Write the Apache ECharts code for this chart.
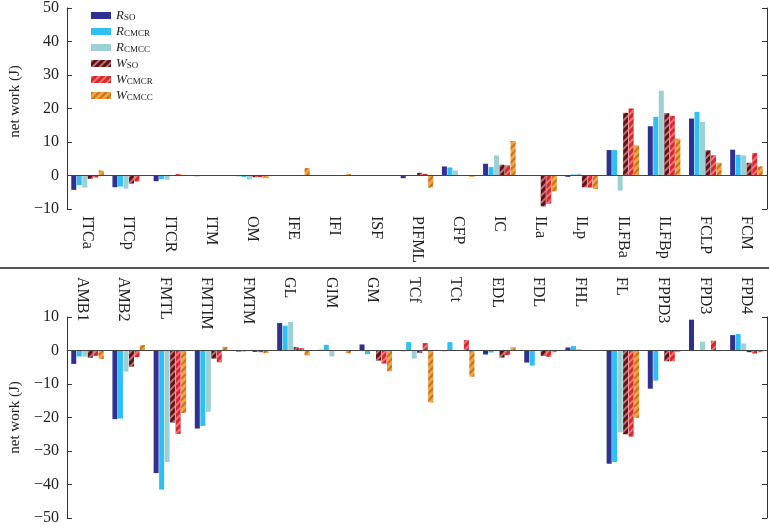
<!DOCTYPE html>
<html>
<head>
<meta charset="utf-8">
<script src="https://cdn.jsdelivr.net/npm/echarts@6/dist/echarts.min.js"></script>
<style>html,body{margin:0;padding:0;background:#fff}#c{width:769px;height:527px}</style>
</head>
<body>
<div id="c"></div>
<script>
var topCats = ['ITCa','ITCp','ITCR','ITM','OM','IFE','IFI','ISF','PIFML','CFP','IC','ILa','ILp','ILFBa','ILFBp','FCLP','FCM'];
var botCats = ['AMB1','AMB2','FMTL','FMTIM','FMTM','GL','GIM','GM','TCf','TCt','EDL','FDL','FHL','FL','FPPD3','FPD3','FPD4'];
var seriesNames = ['R_SO','R_CMCR','R_CMCC','W_SO','W_CMCR','W_CMCC'];

var top_R_SO   = [-4.3,-3.5,-1.7,-0.2,-0.2,0,0,0,-0.8,2.7,3.5,0,-0.4,7.6,14.7,17.0,7.7];
var top_R_CMCR = [-2.9,-3.3,-1.1,-0.1,-0.5,0,0,0,0,2.4,2.5,0,0.3,7.6,17.5,19.0,6.2];
var top_R_CMCC = [-3.6,-3.9,-1.3,-0.1,-1.2,0,0,0,0,1.5,6.0,0,0.5,-4.5,25.3,16.0,6.0];
var top_W_SO   = [-1.0,-2.4,0.1,-0.1,-0.5,0,0,0,0.8,0,3.2,-9.2,-3.5,18.7,18.6,7.5,3.8];
var top_W_CMCR = [-0.6,-1.8,0.4,-0.1,-0.5,0,0,0,0.5,0,3.0,-8.4,-3.6,20.0,17.8,6.0,6.7];
var top_W_CMCC = [1.5,0,0.2,-0.1,-0.8,2.2,0.4,0,-3.6,-0.4,10.3,-4.7,-4.0,9.0,11.0,3.8,2.7];

var bot_R_SO   = [-4.0,-20.5,-36.6,-23.3,-0.3,8.2,0.2,1.8,-0.2,-0.2,-1.2,-3.6,0.9,-33.8,-11.4,9.2,4.6];
var bot_R_CMCR = [-1.8,-20.3,-41.5,-22.5,-0.3,7.4,1.7,-1.1,2.5,2.5,-0.6,-4.5,1.3,-33.3,-9.0,0,4.9];
var bot_R_CMCC = [-1.8,-6.3,-33.3,-18.3,-0.2,8.5,-1.8,0,-2.4,0,-0.2,0,0.4,-24.4,0,2.6,2.1];
var bot_W_SO   = [-2.2,-4.8,-21.5,-2.4,-0.4,1.0,0,-3.0,-0.7,0,-2.1,-1.6,0,-25.0,-3.2,0,-0.5];
var bot_W_CMCR = [-1.6,-2.0,-24.9,-3.5,-0.5,0.7,0,-3.9,2.2,3.1,-1.4,-1.9,0,-25.7,-3.2,2.9,-0.9];
var bot_W_CMCC = [-2.5,1.6,-18.6,1.1,-0.8,-1.5,-0.8,-6.2,-15.5,-7.8,1.0,-0.5,0,-20.1,-0.5,-0.2,-0.5];

var topTicks = {min:-10, max:50, interval:10};
var botTicks = {min:-50, max:10, interval:10};

var topData = [top_R_SO, top_R_CMCR, top_R_CMCC, top_W_SO, top_W_CMCR, top_W_CMCC];
var botData = [bot_R_SO, bot_R_CMCR, bot_R_CMCC, bot_W_SO, bot_W_CMCR, bot_W_CMCC];

var colors = ['#2e3192','#2ec0f2','#9dd0d4','#5c1218','#d8262d','#f2a23f'];
var stripe = [null,null,null,'rgba(230,150,150,0.7)','rgba(255,150,150,0.7)','rgba(180,95,20,0.7)'];

var SERIF = 'Liberation Serif';
function fmtNum(v){ return v < 0 ? '\u2212' + (-v) : String(v); }

function yAxes(gi, t, namePad){
  return [{
    type:'value', gridIndex:gi, position:'left', min:t.min, max:t.max, interval:t.interval,
    name: 'net work (J)', nameLocation:'middle', nameGap:38,
    nameTextStyle:{fontFamily:SERIF, fontSize:15, color:'#222', padding:namePad},
    axisLine:{show:true, lineStyle:{color:'#333', width:1}},
    axisTick:{show:true, inside:true, length:5, lineStyle:{color:'#333'}},
    axisLabel:{fontFamily:SERIF, fontSize:16, color:'#222', formatter:fmtNum, margin:8},
    splitLine:{show:false}
  },{
    type:'value', gridIndex:gi, position:'right', min:t.min, max:t.max, interval:t.interval,
    axisLine:{show:true, lineStyle:{color:'#333', width:1}},
    axisTick:{show:true, inside:true, length:5, lineStyle:{color:'#333'}},
    axisLabel:{show:false}, splitLine:{show:false}
  }];
}

var series = [];
function addSeries(dataSets, xi, yi){
  for (var k=0;k<6;k++){
    var s = {
      name: seriesNames[k], type:'bar', xAxisIndex:xi, yAxisIndex:yi,
      data: dataSets[k], barWidth:5, barGap:'10%',
      itemStyle:{color:colors[k]}
    };
    if (stripe[k]) {
      s.itemStyle.decal = {symbol:'rect', symbolSize:1, dashArrayX:[1,0], dashArrayY:[1.2,2.6], rotation:-Math.PI/4, color:stripe[k]};
    }
    if (k===0){
      s.markLine = {silent:true, symbol:['none','none'], label:{show:false},
        lineStyle:{color:'#444', width:1, type:'solid'}, data:[{yAxis:0}], animation:false};
    }
    series.push(s);
  }
}
addSeries(topData, 0, 0);
addSeries(botData, 1, 2);

var subs = {R_SO:['R','SO'], R_CMCR:['R','CMCR'], R_CMCC:['R','CMCC'], W_SO:['W','SO'], W_CMCR:['W','CMCR'], W_CMCC:['W','CMCC']};

var catLabel = {rotate:-90, margin:7, fontFamily:SERIF, fontSize:16, color:'#222', interval:0};

var option = {
  animation:false,
  backgroundColor:'#fff',
  legend:{
    data: seriesNames, orient:'vertical', left:86, top:2, itemWidth:20, itemHeight:7, itemGap:1,
    icon:'rect',
    formatter:function(n){ return '{i|'+subs[n][0]+'}{s|'+subs[n][1]+'}'; },
    textStyle:{fontFamily:SERIF, color:'#222', lineHeight:13,
      rich:{ i:{fontFamily:SERIF, fontStyle:'italic', fontSize:13, lineHeight:13, verticalAlign:'middle', color:'#222'},
             s:{fontFamily:SERIF, fontSize:9, lineHeight:13, verticalAlign:'bottom', padding:[6,0,0,0], color:'#222'} }}
  },
  grid:[
    {left:61, right:2, top:8, height:201},
    {left:61, right:2, top:317, height:201},
    {left:61, right:2, top:220, height:50, show:false}
  ],
  xAxis:[
    {type:'category', gridIndex:0, data:topCats, position:'bottom',
      axisLine:{show:false, onZero:false}, axisTick:{show:false}, axisLabel:catLabel},
    {type:'category', gridIndex:1, data:botCats, position:'top',
      axisLine:{show:false, onZero:false}, axisTick:{show:false}, axisLabel:{show:false}},
    {type:'category', gridIndex:2, data:botCats, position:'bottom',
      axisLine:{show:false, onZero:false}, axisTick:{show:false}, axisLabel:catLabel}
  ],
  yAxis: yAxes(0, topTicks, [0,0,0,14]).concat(yAxes(1, botTicks, [0,0,0,0])).concat([
    {type:'value', gridIndex:2, show:false, min:0, max:1}
  ]),
  series: series,
  graphic:[{type:'line', shape:{x1:0, y1:268, x2:769, y2:268}, style:{stroke:'#555', lineWidth:2}, silent:true}]
};

var chart = echarts.init(document.getElementById('c'));
chart.setOption(option);
</script>
</body>
</html>
